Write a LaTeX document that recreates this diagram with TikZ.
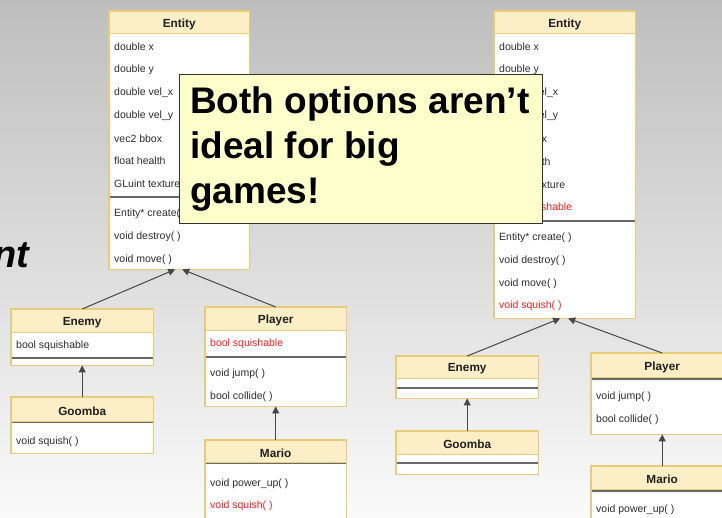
\documentclass[tikz,border=0pt]{standalone}
\usepackage{fontspec}
\setmainfont{Liberation Sans}
\usetikzlibrary{arrows.meta,calc}

\definecolor{hdrfill}{RGB}{252,238,198}
\definecolor{clsedge}{RGB}{232,204,122}
\definecolor{sepgray}{RGB}{105,105,105}
\definecolor{fieldtext}{RGB}{45,45,45}
\definecolor{redtext}{RGB}{250,30,30}
\definecolor{notefill}{RGB}{255,255,204}
\definecolor{bgtop}{RGB}{190,190,190}
\definecolor{bgbot}{RGB}{250,250,250}

\tikzset{
  clsbox/.style={draw=none, fill=white, inner sep=0pt, anchor=north west},
  clsedge/.style={draw=clsedge, line width=1.1pt},
  hdrrule/.style={draw=clsedge, line width=0.9pt},
  seprule/.style={draw=sepgray, line width=1.6pt},
  clstitle/.style={font=\fontsize{11.8}{13}\selectfont\bfseries, text=black!88, inner sep=0pt, yshift=-2pt},
  fld/.style={font=\fontsize{10.5}{12}\selectfont, text=fieldtext, inner sep=0pt, anchor=west, yshift=-1.5pt},
  redfld/.style={fld, text=redtext},
  inherit/.style={draw=black!72, line width=1pt, -{Triangle[length=7pt,width=7pt]}},
  note/.style={draw=black!80, fill=notefill, line width=1.1pt, inner sep=0pt, anchor=north west},
  notetext/.style={font=\fontsize{37}{45}\selectfont\bfseries, align=left, inner sep=0pt, anchor=north west},
  cutword/.style={font=\fontsize{38}{40}\selectfont\bfseries\itshape, inner sep=0pt, anchor=base west},
}

% class box: name, left, top, width, height, header height, title
\newcommand{\umlclass}[7]{%
  \node[clsbox, minimum width=#4pt, minimum height=#5pt] (#1) at (#2,#3) {};
  \fill[hdrfill] (#1.north west) rectangle ($(#1.north east)+(0,#6)$);
  \draw[hdrrule] ($(#1.north west)+(0,#6)$) -- ($(#1.north east)+(0,#6)$);
  \draw[clsedge] (#1.north west) rectangle (#1.south east);
  \node[clstitle] (#1-title) at ($(#1.north)+(0,#6/2)$) {#7};
}
% separator between attributes and operations: name, offset from top
\newcommand{\clssep}[2]{%
  \draw[seprule] ($(#1.north west)+(0.6,#2)$) -- ($(#1.north east)+(-0.6,#2)$);
}

\begin{document}
\begin{tikzpicture}[x=1pt, y=-1pt]
\useasboundingbox (0,0) rectangle (722,518);
\clip (0,0) rectangle (722,518);
\shade[top color=bgtop, bottom color=bgbot] (0,0) rectangle (722,518);

\node[cutword] (cut) at (-7,268) {nt};

% ---------------- first hierarchy ----------------
\umlclass{eA}{109}{11}{140}{258}{22}{Entity}
\node[fld] (eA-1) at (114,45) {double x};
\node[fld] (eA-2) at (114,68) {double y};
\node[fld] (eA-3) at (114,91) {double vel\_x};
\node[fld] (eA-4) at (114,114) {double vel\_y};
\node[fld] (eA-5) at (114,137) {vec2 bbox};
\node[fld] (eA-6) at (114,159) {float health};
\node[fld] (eA-7) at (114,182) {GLuint texture};
\clssep{eA}{186}
\node[fld] (eA-8) at (114,212) {Entity* create( )};
\node[fld] (eA-9) at (114,235) {void destroy( )};
\node[fld] (eA-10) at (114,258) {void move( )};

\umlclass{enA}{11}{309}{142}{56}{23}{Enemy}
\node[fld] (enA-1) at (16,344) {bool squishable};
\clssep{enA}{49}

\umlclass{gA}{11}{397}{142}{56}{24}{Goomba}
\clssep{gA}{25.5}
\node[fld] (gA-1) at (16,440) {void squish( )};

\umlclass{pA}{205}{307}{141}{99}{23}{Player}
\node[redfld] (pA-1) at (210,342) {bool squishable};
\clssep{pA}{50}
\node[fld] (pA-2) at (210,372) {void jump( )};
\node[fld] (pA-3) at (210,395) {bool collide( )};

\umlclass{mA}{205}{440}{141}{80}{22}{Mario}
\clssep{mA}{23.5}
\node[fld] (mA-1) at (210,482) {void power\_up( )};
\node[redfld] (mA-2) at (210,504) {void squish( )};

\coordinate (eA-in1) at ($(eA.south)+(-4,0)$);
\coordinate (eA-in2) at ($(eA.south)+(3,0)$);
\draw[inherit] (enA.north) -- (eA-in1);
\draw[inherit] (pA.north) -- (eA-in2);
\draw[inherit] (gA.north) -- (enA.south);
\draw[inherit] (mA.north) -- (pA.south);

% ---------------- second hierarchy ----------------
\umlclass{eB}{494}{11}{141}{307}{22}{Entity}
\node[fld] (eB-1) at (499,45) {double x};
\node[fld] (eB-2) at (499,68) {double y};
\node[fld] (eB-3) at (499,91) {double vel\_x};
\node[fld] (eB-4) at (499,114) {double vel\_y};
\node[fld] (eB-5) at (499,137) {vec2 bbox};
\node[fld] (eB-6) at (499,160) {float health};
\node[fld] (eB-7) at (499,183) {GLuint texture};
\node[redfld] (eB-8) at (499,206) {bool squishable};
\clssep{eB}{210}
\node[fld] (eB-9) at (499,236) {Entity* create( )};
\node[fld] (eB-10) at (499,259) {void destroy( )};
\node[fld] (eB-11) at (499,282) {void move( )};
\node[redfld] (eB-12) at (499,304) {void squish( )};

\umlclass{enB}{396}{356}{142}{42}{22}{Enemy}
\clssep{enB}{32}

\umlclass{gB}{396}{431}{142}{43}{23}{Goomba}
\clssep{gB}{32}

\umlclass{pB}{591}{353}{142}{81}{24}{Player}
\clssep{pB}{26}
\node[fld] (pB-1) at (596,395) {void jump( )};
\node[fld] (pB-2) at (596,418) {bool collide( )};

\umlclass{mB}{591}{466}{142}{60}{23}{Mario}
\clssep{mB}{25}
\node[fld] (mB-1) at (596,508) {void power\_up( )};

\coordinate (eB-in1) at ($(eB.south)+(-4.5,0)$);
\coordinate (eB-in2) at ($(eB.south)+(3.5,0)$);
\draw[inherit] (enB.north) -- (eB-in1);
\draw[inherit] (pB.north) -- (eB-in2);
\draw[inherit] (gB.north) -- (enB.south);
\draw[inherit] (mB.north) -- (pB.south);

% ---------------- note ----------------
\node[note, minimum width=363pt, minimum height=149pt] (note) at (179,74) {};
\node[notetext] (note-text) at (190,86) {Both options aren’t\\ideal for big\\games!};
\end{tikzpicture}
\end{document}
